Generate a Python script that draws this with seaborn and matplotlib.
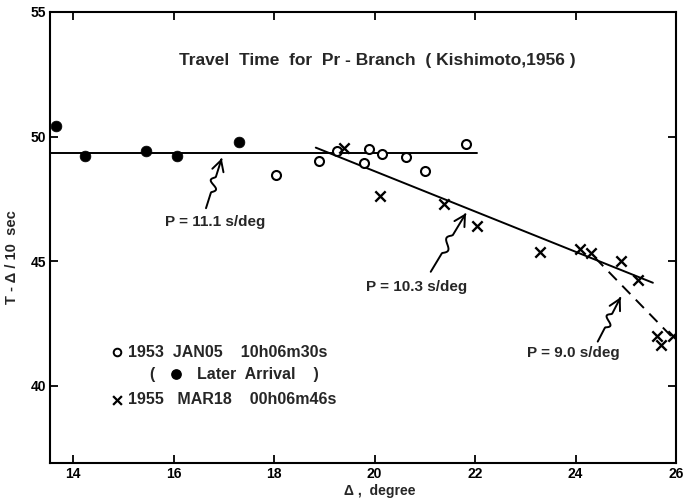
import numpy as np
import pandas as pd
import matplotlib
matplotlib.use("Agg")
import matplotlib.pyplot as plt
from matplotlib.path import Path
from matplotlib.patches import FancyArrowPatch
import seaborn as sns

# ---- observations -------------------------------------------------------
# 1953 JAN05 10h06m30s, later arrivals (filled circles)
late_delta = [13.65, 14.24, 15.45, 16.07, 17.30]
late_time = [50.43, 49.22, 49.42, 49.21, 49.80]

# 1953 JAN05 10h06m30s (open circles)
jan_delta = [18.04, 18.89, 19.25, 19.88, 19.79, 20.15, 20.63, 21.00, 21.83]
jan_time = [48.45, 49.02, 49.42, 49.50, 48.93, 49.32, 49.20, 48.63, 49.69]

# 1955 MAR18 00h06m46s (crosses)
mar_delta = [19.40, 20.10, 21.38, 22.03, 23.29, 24.09, 24.31, 24.90, 25.24,
             25.62, 25.70, 25.94]
mar_time = [49.53, 47.62, 47.30, 46.40, 45.39, 45.49, 45.32, 45.02, 44.25,
            42.02, 41.63, 42.00]

# fitted branches (end points)
branch_111_delta = [13.54, 22.03]
branch_111_time = [49.34, 49.34]
branch_103_delta = [18.83, 25.54]
branch_103_time = [49.56, 44.14]
branch_90_delta = [24.39, 26.00]
branch_90_time = [45.14, 41.80]

x_ticks = [14, 16, 18, 20, 22, 24, 26]
y_ticks = [40, 45, 50, 55]

# ---- style ----------------------------------------------------------------
sns.set_theme(style="ticks")
plt.rcParams["font.family"] = ["Liberation Sans", "DejaVu Sans"]
plt.rcParams["font.weight"] = "bold"
INK = "black"

fig = plt.figure(figsize=(6.84, 4.98), dpi=100)
ax = fig.add_axes([50 / 684, 35 / 498, 626 / 684, 451 / 498])

# ---- branches -----------------------------------------------------------
lines = pd.DataFrame({
    "delta": branch_111_delta + branch_103_delta,
    "time": branch_111_time + branch_103_time,
    "branch": ["11.1"] * 2 + ["10.3"] * 2,
})
sns.lineplot(data=lines, x="delta", y="time", units="branch", estimator=None,
             color=INK, lw=1.4, ax=ax, sort=False)
dashed = pd.DataFrame({"delta": branch_90_delta, "time": branch_90_time})
sns.lineplot(data=dashed, x="delta", y="time", color=INK, lw=1.4, ax=ax,
             dashes=False, linestyle=(0, (6, 4)))

# ---- points -------------------------------------------------------------
late = pd.DataFrame({"delta": late_delta, "time": late_time})
jan = pd.DataFrame({"delta": jan_delta, "time": jan_time})
mar = pd.DataFrame({"delta": mar_delta, "time": mar_time})
sns.scatterplot(data=late, x="delta", y="time", marker="o", s=60,
                color=INK, edgecolor=INK, linewidth=0.5, ax=ax, zorder=5)
sns.scatterplot(data=jan, x="delta", y="time", marker="o", s=42,
                facecolor="white", edgecolor=INK, linewidth=1.5, ax=ax,
                zorder=5)
sns.scatterplot(data=mar, x="delta", y="time", marker="x", s=55,
                color=INK, linewidth=1.7, ax=ax, zorder=5)

# ---- axes -----------------------------------------------------------------
ax.set_xlim(13.54, 26.0)
ax.set_ylim(36.91, 55.0)
ax.set_xticks(x_ticks)
ax.set_yticks(y_ticks)
ax.tick_params(direction="in", length=6, width=1.3, colors=INK,
               labelsize=10, top=True, right=True, pad=3)
for lab in ax.get_xticklabels() + ax.get_yticklabels():
    lab.set_fontweight("bold")
for sp in ax.spines.values():
    sp.set_visible(True)
    sp.set_linewidth(1.5)
    sp.set_color(INK)
ax.set_xlabel("Δ ,  degree", fontsize=10, fontweight="bold")
ax.set_ylabel("T - Δ / 10  sec", fontsize=10.5, fontweight="bold")
ax.xaxis.set_label_coords(0.527, -0.061)
ax.yaxis.set_label_coords(-0.0607, 0.457)
ax.xaxis.label.set_va("center")
ax.yaxis.label.set_va("center")
ax.grid(False)

# ---- title --------------------------------------------------------------
ax.text(0.523, 0.892, "Travel  Time  for  Pr - Branch  ( Kishimoto,1956 )",
        transform=ax.transAxes, ha="center", va="center", fontsize=12.5,
        fontweight="bold")


# ---- slope annotations with wavy arrows ---------------------------------
def wavy_arrow(tail, tip, amp=4.0):
    """Arrow from tail to tip with a small S-shaped kink halfway."""
    to_px = ax.transData.transform
    p0 = np.array(to_px(tail))
    p1 = np.array(to_px(tip))
    d = p1 - p0
    length = np.hypot(*d)
    u = d / length
    n = np.array([-u[1], u[0]])
    t = np.linspace(0, 1, 60)
    off = np.zeros_like(t)
    seg = (t > 0.32) & (t < 0.62)
    off[seg] = -amp * np.sin(2 * np.pi * (t[seg] - 0.32) / 0.30)
    pts = p0[None, :] + t[:, None] * d[None, :] + off[:, None] * n[None, :]
    pts = ax.transData.inverted().transform(pts)
    codes = [Path.MOVETO] + [Path.LINETO] * (len(pts) - 1)
    arrow = FancyArrowPatch(path=Path(pts, codes),
                            arrowstyle="->,head_length=0.55,head_width=0.3",
                            mutation_scale=14, lw=1.4, color=INK,
                            transform=ax.transData)
    ax.add_patch(arrow)


fig.canvas.draw()
wavy_arrow((16.645, 47.13), (16.958, 49.13))
wavy_arrow((21.118, 44.58), (21.820, 46.93))
wavy_arrow((24.442, 41.78), (24.899, 43.56))

ax.text(16.82, 46.58, "P = 11.1 s/deg", ha="center", va="center",
        fontsize=11, fontweight="bold")
ax.text(20.84, 43.96, "P = 10.3 s/deg", ha="center", va="center",
        fontsize=11, fontweight="bold")
ax.text(23.95, 41.33, "P = 9.0 s/deg", ha="center", va="center",
        fontsize=11, fontweight="bold")

# ---- event key ----------------------------------------------------------
tr = ax.transAxes
ax.scatter([0.1066], [0.2455], marker="o", s=30, facecolor="white",
           edgecolor=INK, linewidth=1.4, transform=tr, clip_on=False)
ax.text(0.125, 0.2455, "1953  JAN05    10h06m30s", transform=tr,
        ha="left", va="center", fontsize=11.5, fontweight="bold")
ax.text(0.1625, 0.197, "(", transform=tr, ha="center", va="center",
        fontsize=11.5, fontweight="bold")
ax.scatter([0.2013], [0.197], marker="o", s=45, color=INK, transform=tr)
ax.text(0.2343, 0.197, "Later  Arrival    )", transform=tr,
        ha="left", va="center", fontsize=11.5, fontweight="bold")
ax.scatter([0.1066], [0.1397], marker="x", s=40, color=INK, linewidth=1.6,
           transform=tr)
ax.text(0.125, 0.1397, "1955   MAR18    00h06m46s", transform=tr,
        ha="left", va="center", fontsize=11.5, fontweight="bold")

fig.savefig("out.png", dpi=100, facecolor="white")
